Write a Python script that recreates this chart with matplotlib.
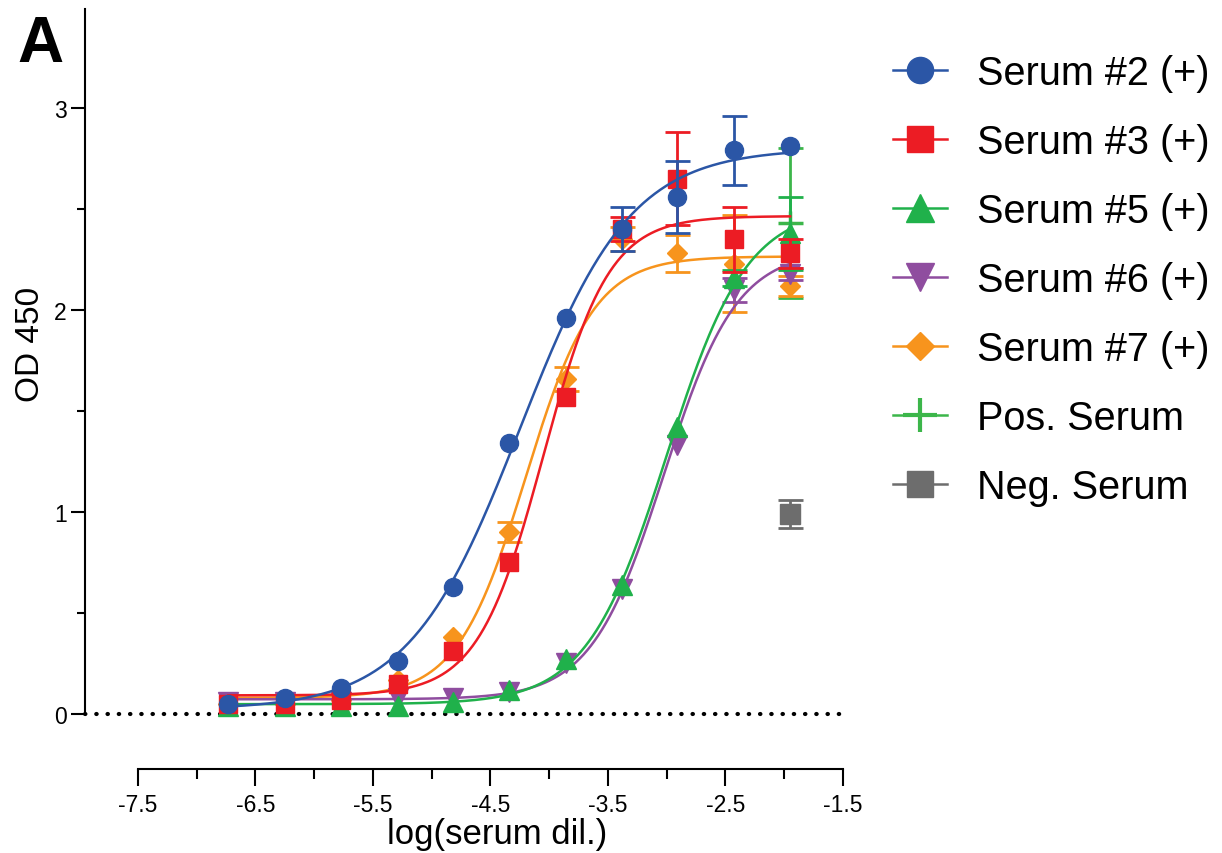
import numpy as np
import matplotlib
matplotlib.use("Agg")
import matplotlib.pyplot as plt
from matplotlib.lines import Line2D

plt.rcParams['font.family'] = ['Liberation Sans', 'DejaVu Sans']

# log dilution for each point
log_dil = [-6.73, -6.25, -5.77, -5.29, -4.82, -4.34, -3.86, -3.38, -2.91, -2.43, -1.95]

s2 = [0.05, 0.08, 0.13, 0.26, 0.63, 1.34, 1.96, 2.40, 2.56, 2.79, 2.81]
s2_err = [0, 0, 0, 0, 0, 0, 0, 0.11, 0.18, 0.17, 0]
s3 = [0.05, 0.05, 0.07, 0.15, 0.31, 0.75, 1.57, 2.40, 2.65, 2.35, 2.28]
s3_err = [0, 0, 0, 0, 0, 0, 0, 0.06, 0.23, 0.16, 0.07]
s5 = [0.04, 0.04, 0.04, 0.04, 0.06, 0.12, 0.27, 0.64, 1.42, 2.16, 2.38]
s5_err = [0, 0, 0, 0, 0, 0, 0, 0, 0, 0.04, 0.18]
s6 = [0.06, 0.06, 0.06, 0.08, 0.08, 0.11, 0.25, 0.62, 1.33, 2.10, 2.18]
s6_err = [0, 0, 0, 0, 0, 0, 0, 0, 0, 0.06, 0.03]
s7 = [0.05, 0.05, 0.07, 0.17, 0.38, 0.90, 1.66, 2.35, 2.28, 2.23, 2.12]
s7_err = [0, 0, 0, 0, 0, 0.05, 0.06, 0.06, 0.09, 0.24, 0.05]

pos_x, pos_y, pos_err = [-1.95], [2.43], [0.37]
neg_x, neg_y, neg_err = [-1.95], [0.99], [0.07]

names = ["Serum #2 (+)", "Serum #3 (+)", "Serum #5 (+)", "Serum #6 (+)", "Serum #7 (+)"]
colors = ["#2b56a6", "#ec1c24", "#20b14b", "#8f4d9f", "#f7941d"]
markers = ["o", "s", "^", "v", "D"]
msizes = [13, 13, 14, 14, 10]
pos_color = "#3cb64a"
neg_color = "#6d6d6d"


def fit4pl(x, y):
    # brute-force 4PL fit: grid on logEC50/hill, linear solve for bottom/top
    x = np.asarray(x); y = np.asarray(y)
    ec = np.linspace(-6.5, -1.5, 401)[:, None, None]
    h = np.linspace(0.3, 3.0, 271)[None, :, None]
    s = 1.0 / (1.0 + 10 ** ((ec - x) * h))
    sm = s.mean(-1, keepdims=True)
    ym = y.mean()
    slope = ((s - sm) * (y - ym)).sum(-1) / ((s - sm) ** 2).sum(-1)
    icpt = ym - slope * sm[..., 0]
    res = ((icpt[..., None] + slope[..., None] * s - y) ** 2).sum(-1)
    i, j = np.unravel_index(np.argmin(res), res.shape)
    e, hh = ec[i, 0, 0], h[0, j, 0]
    return lambda xx: icpt[i, j] + slope[i, j] / (1 + 10 ** ((e - xx) * hh))


def err_only(ax, x, y, e, color, z):
    x = np.asarray(x); y = np.asarray(y); e = np.asarray(e)
    m = e > 0
    if m.any():
        ax.errorbar(x[m], y[m], yerr=e[m], fmt='none', ecolor=color, capsize=9,
                    elinewidth=2, capthick=2, clip_on=False, zorder=z)


fig = plt.figure(figsize=(12.22, 8.54), dpi=100)
ax = fig.add_axes([85 / 1222, 1 - 715 / 854, 758 / 1222, 705 / 854])

ax.axhline(0, color='black', lw=3, linestyle=(0, (0.1, 2.6)),
           dash_capstyle='round', clip_on=False, zorder=1)

xx = np.linspace(log_dil[0], log_dil[-1], 300)

# neg / pos controls
err_only(ax, neg_x, neg_y, neg_err, neg_color, 2)
ax.plot(neg_x, neg_y, 's', color=neg_color, ms=14, clip_on=False, zorder=2.1)
err_only(ax, pos_x, pos_y, pos_err, pos_color, 2)
ax.plot(pos_x, pos_y, '+', color=pos_color, ms=18, mew=2.5, clip_on=False, zorder=2.1)

order = [4, 3, 2, 1, 0]  # draw #7 first, #2 on top
all_y = [s2, s3, s5, s6, s7]
all_e = [s2_err, s3_err, s5_err, s6_err, s7_err]
for n, k in enumerate(order):
    f = fit4pl(log_dil, all_y[k])
    z = 3 + n
    ax.plot(xx, f(xx), color=colors[k], lw=1.8, zorder=z)
    err_only(ax, log_dil, all_y[k], all_e[k], colors[k], z)
    ax.plot(log_dil, all_y[k], markers[k], color=colors[k], ms=msizes[k],
            clip_on=False, zorder=z + 0.5)

ax.set_xlim(-7.95, -1.5)
ax.set_ylim(0, 3.49)

for s in ['top', 'right']:
    ax.spines[s].set_visible(False)
ax.spines['left'].set_bounds(0, 3.49)
ax.spines['bottom'].set_position(('outward', 39.6))
ax.spines['bottom'].set_bounds(-7.5, -1.5)
for s in ['left', 'bottom']:
    ax.spines[s].set_linewidth(1.5)

ax.set_xticks(np.arange(-7.5, -1.4, 1.0))
ax.set_xticklabels(["-7.5", "-6.5", "-5.5", "-4.5", "-3.5", "-2.5", "-1.5"])
ax.set_xticks(np.arange(-7.0, -1.9, 1.0), minor=True)
ax.set_yticks([0, 1, 2, 3])
ax.set_yticks([0.5, 1.5, 2.5], minor=True)
ax.tick_params(axis='both', which='major', labelsize=16.5, width=1.5)
ax.tick_params(axis='x', which='major', length=12, pad=5)
ax.tick_params(axis='x', which='minor', length=7, width=1.5)
ax.tick_params(axis='y', which='major', length=10, pad=3)
ax.tick_params(axis='y', which='minor', length=6, width=1.5)

ax.set_xlabel("log(serum dil.)", fontsize=25)
ax.xaxis.set_label_coords(0.5435, -0.146)
ax.set_ylabel("OD 450", fontsize=24)
ax.yaxis.set_label_coords(-0.051, 0.526)

fig.text(17 / 1222, 1 - 62 / 854, "A", fontsize=46, fontweight='bold', va='baseline')

leg_h = [Line2D([], [], color=colors[k], marker=markers[k], ms=msizes[k] * 1.45, lw=1.8)
         for k in range(5)]
leg_h.append(Line2D([], [], color=pos_color, marker='+', ms=24, mew=3, lw=1.8))
leg_h.append(Line2D([], [], color=neg_color, marker='s', ms=19, lw=1.8))
leg_l = names + ["Pos. Serum", "Neg. Serum"]
fig.legend(leg_h, leg_l, loc='upper left', bbox_to_anchor=(893 / 1222, 1 - 55 / 854),
           frameon=False, fontsize=28.5, handlelength=1.36,
           handletextpad=0.75, labelspacing=0.784, borderpad=0, borderaxespad=0)

fig.savefig("out.png", dpi=100)
